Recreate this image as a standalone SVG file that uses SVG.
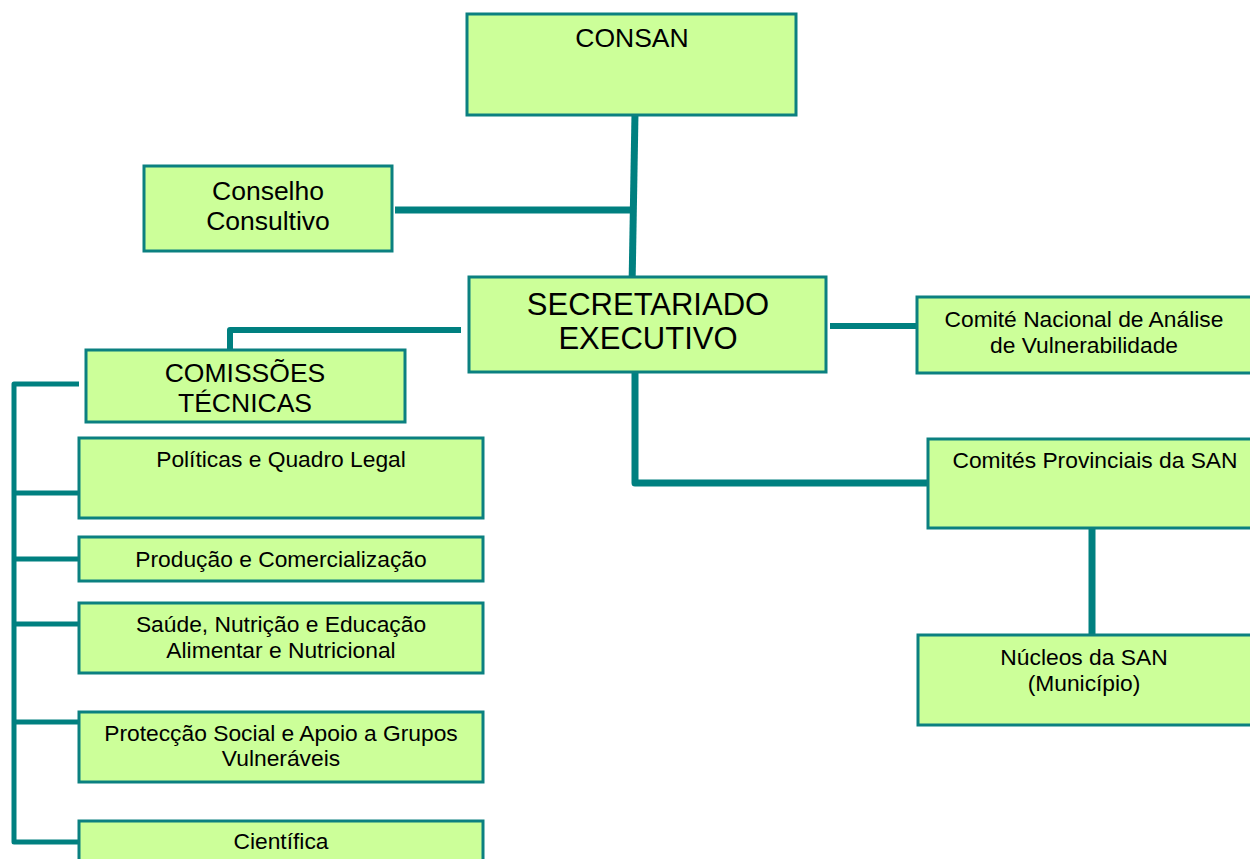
<svg xmlns="http://www.w3.org/2000/svg" width="1250" height="859" viewBox="0 0 1250 859">
<style>
.box{fill:#CCFF99;stroke:#0B8080;stroke-width:3}
.ln{fill:none;stroke:#008080;stroke-linejoin:round;stroke-linecap:butt}
text{font-family:"Liberation Sans",Arial,sans-serif;fill:#000;text-anchor:middle}
.s{font-size:22.8px}
.m{font-size:26.5px}
.l{font-size:31px}
</style>
<rect width="1250" height="859" fill="#fff"/>
<g id="connectors">
<path class="ln" stroke-width="7" d="M635,113 L632,288"/>
<path class="ln" stroke-width="7" d="M395,210 L632,210"/>
<path class="ln" stroke-width="6" d="M461,330 L230,330 L230,357"/>
<path class="ln" stroke-width="6" d="M830,326 L918,326"/>
<path class="ln" stroke-width="7" d="M635,372 L635,483 L928,483"/>
<path class="ln" stroke-width="7" d="M1092,528 L1092,636"/>
<path class="ln" stroke-width="5" d="M79,384 L14,384 L14,842 L79,842"/>
<path class="ln" stroke-width="5" d="M14,493 L79,493"/>
<path class="ln" stroke-width="5" d="M14,559 L79,559"/>
<path class="ln" stroke-width="5" d="M14,624 L79,624"/>
<path class="ln" stroke-width="5" d="M14,722 L79,722"/>
</g>
<g id="consan">
<rect class="box" x="467" y="14" width="329" height="101"/>
<text class="m" x="632" y="47">CONSAN</text>
</g>
<g id="conselho">
<rect class="box" x="144" y="166" width="248" height="85"/>
<text class="m" x="268" y="200">Conselho</text>
<text class="m" x="268" y="230">Consultivo</text>
</g>
<g id="secretariado">
<rect class="box" x="469" y="277" width="357" height="95"/>
<text class="l" x="648" y="315">SECRETARIADO</text>
<text class="l" x="648" y="349">EXECUTIVO</text>
</g>
<g id="comite-nacional">
<rect class="box" x="917" y="297" width="345" height="76"/>
<text class="s" x="1084" y="327">Comité Nacional de Análise</text>
<text class="s" x="1084" y="353">de Vulnerabilidade</text>
</g>
<g id="comites-provinciais">
<rect class="box" x="928" y="439" width="334" height="89"/>
<text class="s" x="1095" y="468">Comités Provinciais da SAN</text>
</g>
<g id="nucleos">
<rect class="box" x="918" y="635" width="344" height="90"/>
<text class="s" x="1084" y="665">Núcleos da SAN</text>
<text class="s" x="1084" y="691">(Município)</text>
</g>
<g id="comissoes">
<rect class="box" x="86" y="350" width="319" height="72"/>
<text class="m" x="245" y="382">COMISSÕES</text>
<text class="m" x="245" y="412">TÉCNICAS</text>
</g>
<g id="politicas">
<rect class="box" x="79" y="438" width="404" height="80"/>
<text class="s" x="281" y="467">Políticas e Quadro Legal</text>
</g>
<g id="producao">
<rect class="box" x="79" y="537" width="404" height="44"/>
<text class="s" x="281" y="567">Produção e Comercialização</text>
</g>
<g id="saude">
<rect class="box" x="79" y="603" width="404" height="70"/>
<text class="s" x="281" y="632">Saúde, Nutrição e Educação</text>
<text class="s" x="281" y="658">Alimentar e Nutricional</text>
</g>
<g id="proteccao">
<rect class="box" x="79" y="712" width="404" height="70"/>
<text class="s" x="281" y="741">Protecção Social e Apoio a Grupos</text>
<text class="s" x="281" y="766">Vulneráveis</text>
</g>
<g id="cientifica">
<rect class="box" x="79" y="821" width="404" height="50"/>
<text class="s" x="281" y="849">Científica</text>
</g>
</svg>
